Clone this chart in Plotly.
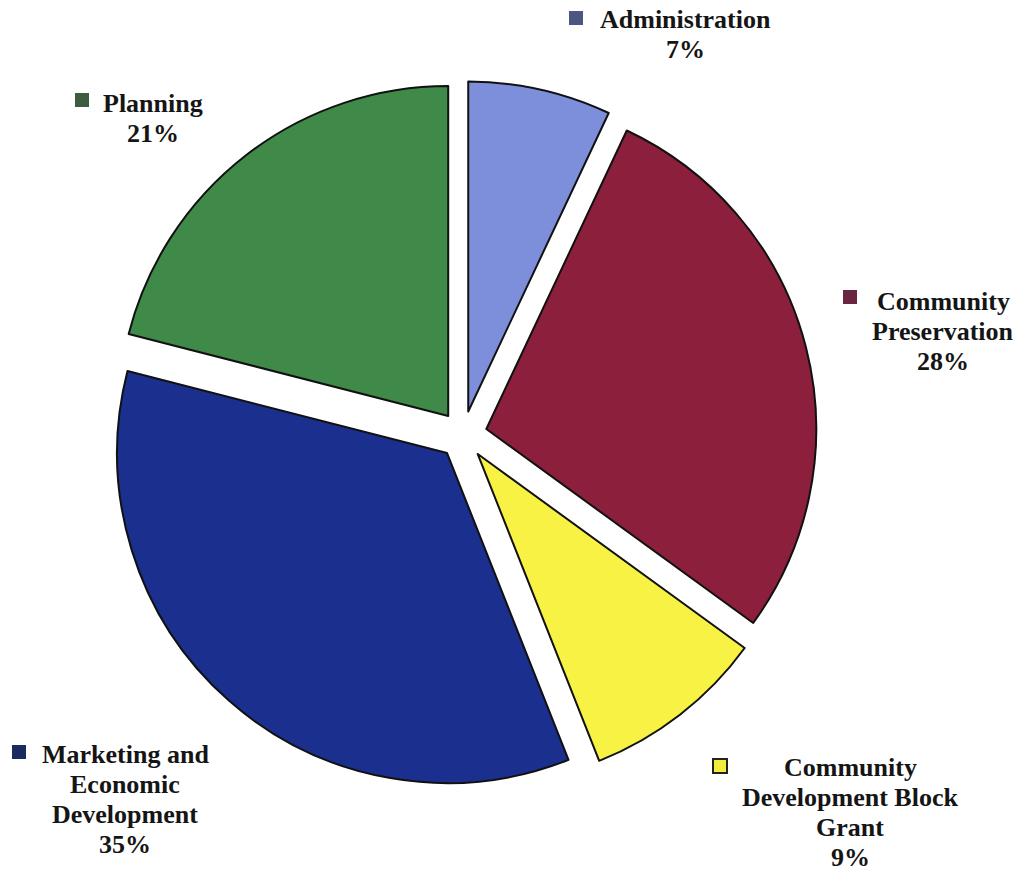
import plotly.graph_objects as go

# Budget share by division (percent), clockwise from 12 o'clock
categories = ["Administration", "Community Preservation", "Community Development Block Grant",
              "Marketing and Economic Development", "Planning"]
shares = [7, 28, 9, 35, 21]
slice_colors = ["#7d8fdb", "#8c1f3b", "#f7f244", "#1b2f8e", "#3f8a49"]
marker_colors = ["#4b5684", "#6a2541", "#f2ec3a", "#1b2b5e", "#3e5c40"]

# Label text lines for each slice (value line appended from shares)
label_lines = [
    ["Administration"],
    ["Community", "Preservation"],
    ["Community", "Development Block", "Grant"],
    ["Marketing and", "Economic", "Development"],
    ["Planning"],
]

W, H = 1026, 871

fig = go.Figure()
fig.add_trace(go.Pie(
    labels=categories,
    values=shares,
    sort=False,
    direction="clockwise",
    rotation=0,
    pull=0.073,
    marker=dict(colors=slice_colors, line=dict(color="#111111", width=2)),
    textinfo="none",
    hoverinfo="label+percent",
    showlegend=False,
    domain=dict(x=[0.1062, 0.7963], y=[0.0941, 0.907]),
))

# label anchors in pixels: (text center x, first line y, marker x, marker y)
label_pos = [
    (685, 19, 576, 18),
    (943, 301, 850, 297),
    (850, 767, 720, 766),
    (125, 754, 19, 752),
    (153, 103, 82, 100),
]
line_step = 30
font = dict(family="Liberation Serif, Times New Roman, serif", size=26, color="#151515")

annotations = []
shapes = []
for lines, share, (cx, y0, mx, my), mc in zip(label_lines, shares, label_pos, marker_colors):
    all_lines = lines + [f"{share}%"]
    for i, t in enumerate(all_lines):
        y = y0 + i * line_step
        annotations.append(dict(
            x=cx / W, y=1 - y / H, xref="paper", yref="paper",
            text=f"<b>{t}</b>", showarrow=False, font=font,
            xanchor="center", yanchor="middle",
        ))
    outlined = mc == "#f2ec3a"
    shapes.append(dict(
        type="rect", xref="paper", yref="paper",
        x0=(mx - 7) / W, x1=(mx + 7) / W, y0=1 - (my + 7) / H, y1=1 - (my - 7) / H,
        fillcolor=mc, line=dict(color="#222222" if outlined else mc, width=2 if outlined else 0),
    ))

fig.update_layout(
    width=W, height=H,
    margin=dict(l=0, r=0, t=0, b=0),
    paper_bgcolor="white",
    plot_bgcolor="white",
    annotations=annotations,
    shapes=shapes,
)

fig.write_html("out.html")
